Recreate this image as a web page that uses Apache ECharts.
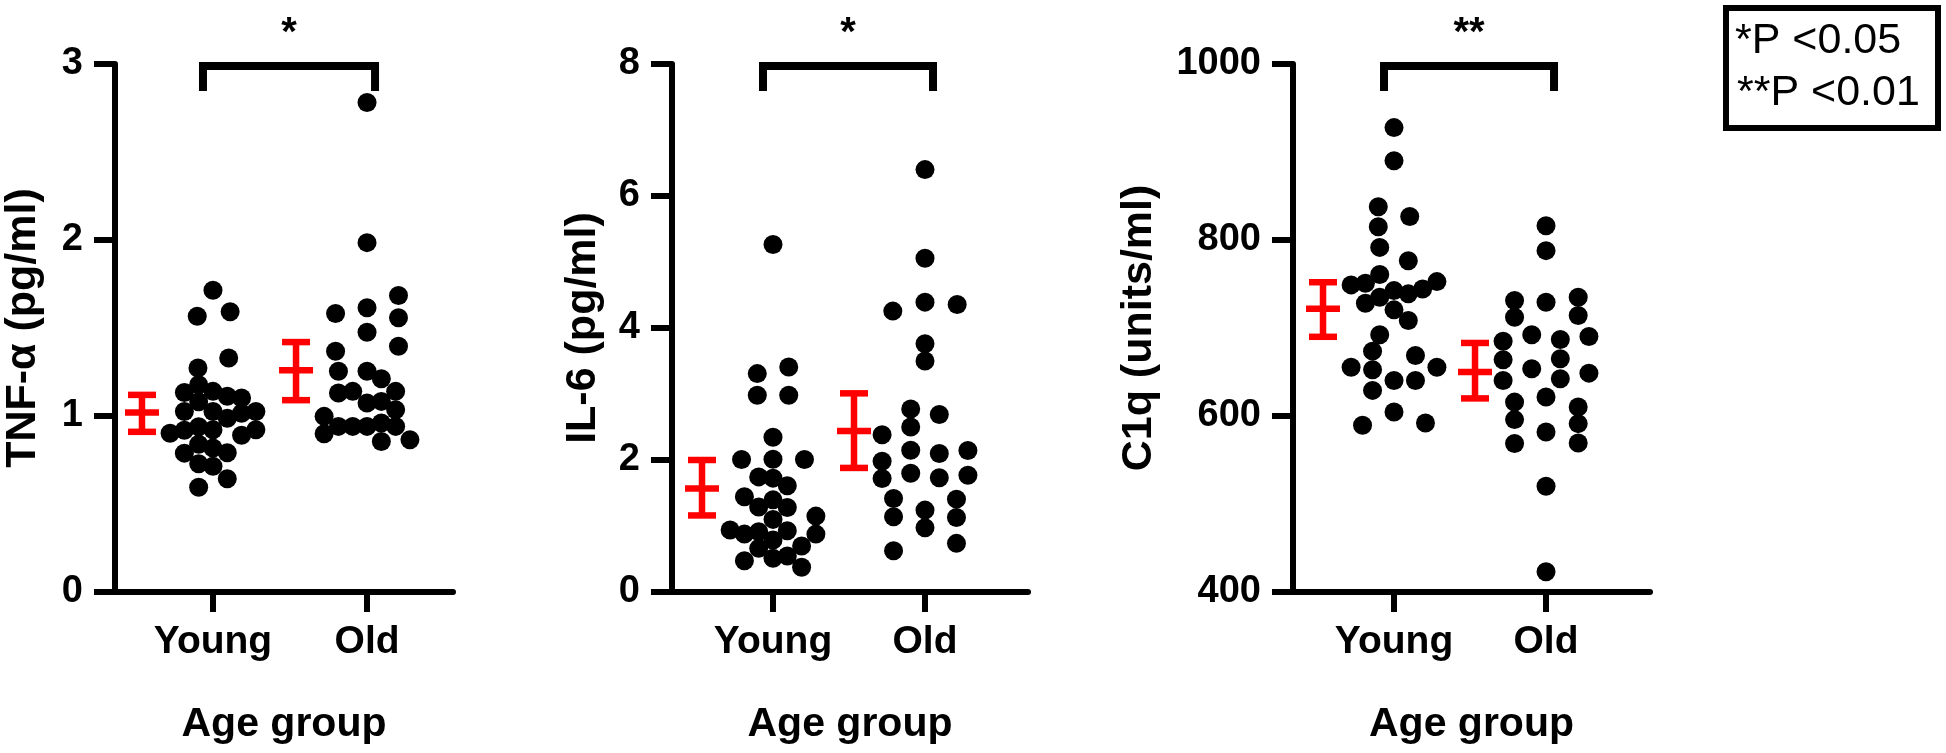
<!DOCTYPE html>
<html><head><meta charset="utf-8">
<script src="https://cdn.jsdelivr.net/npm/echarts@6/dist/echarts.min.js"></script>
<style>html,body{margin:0;padding:0;background:#fff;} #c{width:1946px;height:753px;}</style>
</head><body><div id="c"></div>
<script>
// ---------- data ----------
const categories = ['Young', 'Old'];
const xTitle = 'Age group';
const yTitles = ['TNF-α (pg/ml)', 'IL-6 (pg/ml)', 'C1q (units/ml)'];
const tnfTicks = [0, 1, 2, 3];
const il6Ticks = [0, 2, 4, 6, 8];
const c1qTicks = [400, 600, 800, 1000];
const sigLabels = ['*', '*', '**'];
const legendLines = ['*P <0.05', '**P <0.01'];

// values; *Cols = beeswarm column index of each dot
const tnfYoung = [1.715,1.567,1.592,1.330,1.273,1.178,1.134,1.140,1.112,1.102,1.081,1.026,1.026,0.987,1.016,1.026,0.902,0.919,0.939,0.922,0.891,0.922,0.840,0.818,0.789,0.791,0.729,0.715,0.643,0.595];
const tnfYoungCols = [0,-1.1,1.2,1.1,-1.05,-1,-2,0,1,2,-1,-2,0,1,2,3,-3,-2,-1,0,2,3,-1,0,-2,1,-1,0,1,-1];
const tnfOld = [2.781,1.985,1.685,1.582,1.615,1.558,1.476,1.396,1.368,1.254,1.254,1.212,1.131,1.140,1.140,1.074,1.083,1.036,0.998,0.941,0.941,0.941,0.960,0.941,0.899,0.855,0.865];
const tnfOldCols = [0,0,2.2,-2.2,0,2.2,0,2.2,-2.2,-2,0,1,-2,-1,2,0,1,2,-3,-2,-1,0,1,2,-3,1,3];

const il6Young = [5.265,3.309,3.408,2.98,2.98,2.345,2.007,2.012,2.007,1.744,1.725,1.611,1.442,1.396,1.286,1.281,1.150,1.100,0.938,0.877,0.912,0.927,0.877,0.787,0.661,0.696,0.474,0.510,0.545,0.374];
const il6YoungCols = [0,-1.1,1.1,-1.1,1.1,0,-2.2,0,2.2,-1,0,1,-2,0,-1,1,3,0,-3,-2,-1,1,3,0,-1,2,-2,0,1,2];
const il6Old = [6.40,5.058,4.256,4.392,4.357,3.762,3.50,2.772,2.688,2.501,2.383,2.148,2.098,2.144,1.982,1.800,1.732,1.770,1.720,1.418,1.407,1.139,1.241,1.130,0.973,0.625,0.737];
const il6OldCols = [0,0,-2.25,0,2.25,0,0,-1,1,-1,-3,-1,1,3,-3,-1,1,3,-3,-2.2,2.2,-2.2,0,2.2,0,-2.2,2.2];

const c1qYoung = [927.7,890,837.8,826.8,815.1,791.6,776.5,760.7,749,750.8,752.7,734.9,742.5,738.8,744.4,728.1,720.6,708.5,692.3,673.7,668.8,655.5,652.6,655.5,640.4,640.4,629.1,604.5,589.4,592];
const c1qYoungCols = [0,0,-1.1,1.1,-1.1,-1,1,-1,-3,-2,3,-1,0,1,2,-2,0,1,-1,-1.5,1.5,-3,-1.5,3,0,1.5,-1.5,0,-2.2,2.2];
const c1qOld = [816.2,787.9,731.2,729.3,734.9,712.2,714.2,685,692.3,687,690.4,663.9,665,653.7,648.7,640.4,642.4,615.8,621.5,610.2,595.9,581.8,591.3,568.7,569.4,520.2,423];
const c1qOldCols = [0,0,-2.2,0,2.25,-2.2,2.25,-3,-1,1,3,-3,1,-1,3,-3,1,-2.2,0,2.25,-2.2,0,2.25,-2.2,2.25,0,0];

// [mean, lower, upper] per category
const tnfStats = [[1.02,0.91,1.12],[1.26,1.09,1.42]];
const il6Stats = [[1.57,1.16,2.00],[2.44,1.88,3.01]];
const c1qStats = [[722,690,752],[650,620,683]];

// ---------- layout / style ----------
const FONT = '"Liberation Sans", Arial, Helvetica, sans-serif';
const COL_PX = 14.3;     // beeswarm column spacing in px
const ERR_DX = -71;      // error bar drawn left of the dots
const panels = [
  {ticks: tnfTicks, groups: [[tnfYoung, tnfYoungCols], [tnfOld, tnfOldCols]], stats: tnfStats,
   grid: {left: 115, top: 64, width: 338, height: 528}, xr: [0.364, 2.558], nameGap: 70},
  {ticks: il6Ticks, groups: [[il6Young, il6YoungCols], [il6Old, il6OldCols]], stats: il6Stats,
   grid: {left: 672, top: 64, width: 356, height: 528}, xr: [0.3355, 2.6776], nameGap: 67},
  {ticks: c1qTicks, groups: [[c1qYoung, c1qYoungCols], [c1qOld, c1qOldCols]], stats: c1qStats,
   grid: {left: 1293, top: 64, width: 357, height: 528}, xr: [0.3355, 2.684], nameGap: 132}
];

const grids = [], xAxes = [], yAxes = [], series = [];
panels.forEach((p, i) => {
  grids.push(p.grid);
  const step = COL_PX * (p.xr[1] - p.xr[0]) / p.grid.width;
  const catVals = categories.map((c, k) => k + 1);
  xAxes.push({
    type: 'value', gridIndex: i, min: p.xr[0], max: p.xr[1],
    splitLine: {show: false},
    axisLine: {show: true, onZero: false, lineStyle: {color: '#000', width: 6}},
    axisTick: {show: true, length: 20, customValues: catVals, lineStyle: {color: '#000', width: 6}},
    axisLabel: {show: true, customValues: catVals, margin: 31, color: '#000',
      fontFamily: FONT, fontWeight: 'bold', fontSize: 39,
      formatter: v => categories[Math.round(v) - 1] || ''},
    name: xTitle, nameLocation: 'middle', nameGap: 112,
    nameTextStyle: {color: '#000', fontFamily: FONT, fontWeight: 'bold', fontSize: 41}
  });
  const t = p.ticks;
  yAxes.push({
    type: 'value', gridIndex: i, min: t[0], max: t[t.length - 1], interval: t[1] - t[0],
    splitLine: {show: false},
    axisLine: {show: true, onZero: false, lineStyle: {color: '#000', width: 6}},
    axisTick: {show: true, length: 21, lineStyle: {color: '#000', width: 6}},
    axisLabel: {margin: 32, color: '#000', fontFamily: FONT, fontWeight: 'bold', fontSize: 38,
      formatter: v => String(v)},
    name: yTitles[i], nameLocation: 'middle', nameGap: p.nameGap,
    nameTextStyle: {color: '#000', fontFamily: FONT, fontWeight: 'bold', fontSize: 43}
  });
  const pts = [];
  p.groups.forEach((g, k) => {
    g[0].forEach((v, j) => pts.push([k + 1 + g[1][j] * step, v]));
  });
  series.push({
    type: 'scatter', xAxisIndex: i, yAxisIndex: i, data: pts,
    symbol: 'circle', symbolSize: 19, itemStyle: {color: '#000', opacity: 1}, silent: true
  });
  series.push({
    type: 'custom', xAxisIndex: i, yAxisIndex: i, clip: false, silent: true, z: 5,
    data: p.stats.map((s, k) => [k + 1, s[0], s[1], s[2]]),
    renderItem: (params, api) => {
      const x = api.value(0);
      const m = api.coord([x, api.value(1)]);
      const lo = api.coord([x, api.value(2)]);
      const hi = api.coord([x, api.value(3)]);
      const cx = m[0] + ERR_DX;
      const st = {stroke: '#ff0000', lineWidth: 6.5};
      return {type: 'group', children: [
        {type: 'line', shape: {x1: cx, y1: hi[1], x2: cx, y2: lo[1]}, style: st},
        {type: 'line', shape: {x1: cx - 14, y1: hi[1], x2: cx + 14, y2: hi[1]}, style: st},
        {type: 'line', shape: {x1: cx - 14, y1: lo[1], x2: cx + 14, y2: lo[1]}, style: st},
        {type: 'line', shape: {x1: cx - 17, y1: m[1], x2: cx + 17, y2: m[1]}, style: st}
      ]};
    }
  });
  const sig = sigLabels[i];
  series.push({
    type: 'custom', xAxisIndex: i, yAxisIndex: i, clip: false, silent: true,
    data: [[1, 2, t[t.length - 1]]],
    renderItem: (params, api) => {
      const a = api.coord([api.value(0), api.value(2)]);
      const b = api.coord([api.value(1), api.value(2)]);
      const y = a[1] + 2, l = a[0] - 10, r = b[0] + 8;
      return {type: 'group', children: [
        {type: 'polyline', shape: {points: [[l, y + 25], [l, y], [r, y], [r, y + 25]]},
         style: {stroke: '#000', lineWidth: 8, fill: null, lineJoin: 'miter'}},
        {type: 'text', style: {text: sig, x: (l + r) / 2, y: y - 32, align: 'center',
         verticalAlign: 'middle', font: 'bold 40px ' + FONT, fill: '#000'}}
      ]};
    }
  });
});

const chart = echarts.init(document.getElementById('c'), null, {renderer: 'canvas'});
chart.setOption({
  animation: false,
  backgroundColor: '#fff',
  grid: grids, xAxis: xAxes, yAxis: yAxes, series: series,
  graphic: [
    {type: 'rect', shape: {x: 1726, y: 8, width: 212, height: 120},
     style: {fill: '#fff', stroke: '#000', lineWidth: 6}},
    {type: 'text', x: 1735, y: 41, style: {text: legendLines[0], font: '43px ' + FONT, fill: '#000', verticalAlign: 'middle'}},
    {type: 'text', x: 1737, y: 93, style: {text: legendLines[1], font: '43px ' + FONT, fill: '#000', verticalAlign: 'middle'}}
  ]
});
</script></body></html>
